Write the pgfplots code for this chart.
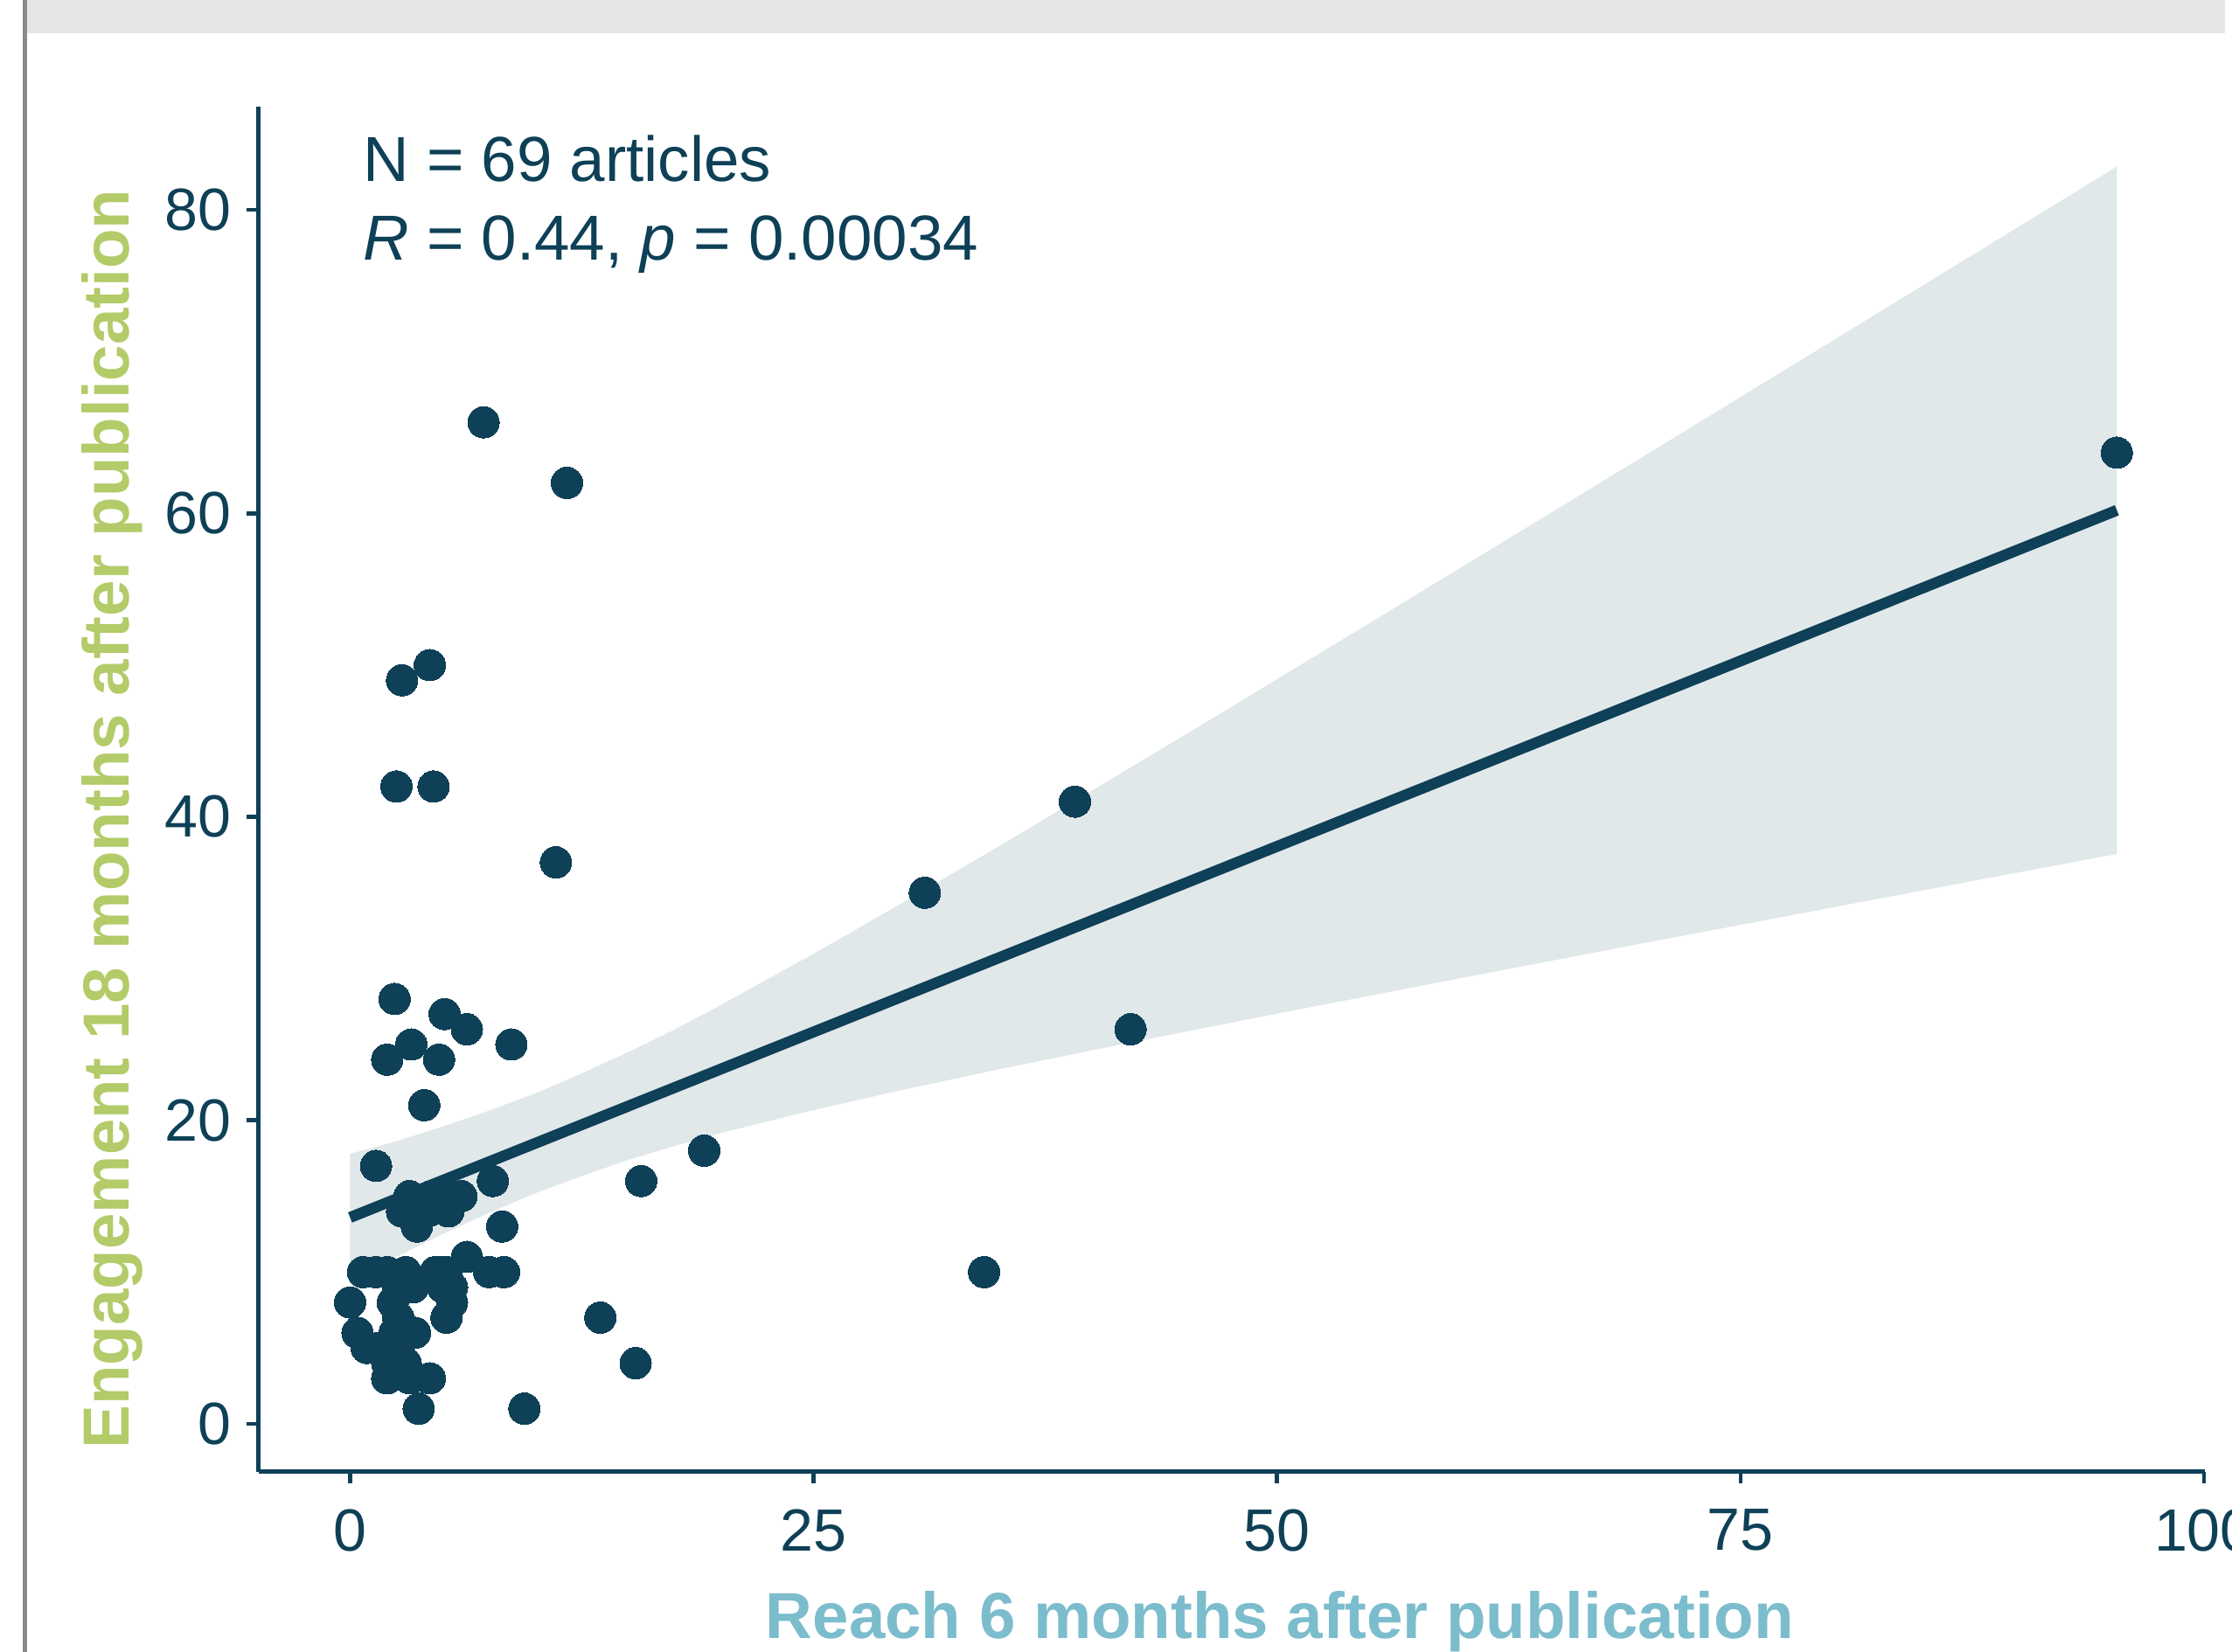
\documentclass[border=0pt]{standalone}
\usepackage{fontspec}
\setmainfont{Liberation Sans}
\usepackage{pgfplots}
\pgfplotsset{compat=1.18}
\definecolor{navy}{HTML}{0E4057}
\definecolor{ylab}{HTML}{B3CB68}
\definecolor{xlab}{HTML}{7CBDCD}
\definecolor{band}{HTML}{E1E8EA}
\definecolor{topgray}{HTML}{E5E5E5}
\definecolor{linegray}{HTML}{8A8A8A}
\pgfplotstableread{
x y
7.2 66
11.7 62
95.3 64
2.8 49
4.3 50
2.5 42
4.5 42
11.1 37
31.0 35
39.1 41
42.1 26
34.2 10
19.1 18
15.7 16
13.5 7
15.4 4
9.4 1
3.7 1
2.4 28
5.1 27
6.3 26
8.7 25
3.3 25
2.0 24
4.8 24
4.0 21
1.4 17
7.7 16
8.2 13
3.2 15
5.6 15
6.0 15
2.8 14
4.2 14
5.3 14
3.6 13
6.3 11
0.7 10
1.4 10
2.0 10
4.6 10
5.2 10
7.5 10
8.3 10
3.4 9
5.5 9
0.0 8
2.3 8
5.5 8
5.2 7
2.6 7
0.4 6
2.4 6
3.5 6
0.9 5
2.0 4
3.0 4
2.0 3
4.3 3
1.5 5
2.6 9
3.0 10
5.0 9
4.4 15
3.9 14
2.6 5
3.2 3
4.9 10
5.4 9
}\pts
\begin{document}
\begin{tikzpicture}
\path[use as bounding box] (-29.57mm,-20.6mm) rectangle (225.73mm,168.4mm);
\fill[white] (-29.57mm,-20.6mm) rectangle (225.73mm,168.4mm);
\fill[topgray] (-26.5mm,164.6mm) rectangle (224.93mm,168.4mm);
\fill[linegray] (-26.97mm,-20.6mm) rectangle (-26.5mm,168.4mm);
\begin{axis}[
  at={(0,0)}, anchor=south west,
  scale only axis, width=222.63mm, height=156.2mm,
  xmin=-4.94, xmax=100.05, ymin=-3.17, ymax=86.8,
  axis x line*=bottom, axis y line*=left,
  axis line style={line width=0.5mm, navy},
  xtick={0,25,50,75,100}, ytick={0,20,40,60,80},
  tick align=outside, major tick length=1.35mm,
  tick style={line width=0.45mm, navy},
  /pgf/number format/assume math mode=true,
  xticklabel style={font=\fontsize{19.4pt}{23pt}\selectfont, text=navy, anchor=north, inner sep=0pt, yshift=-2.85mm},
  yticklabel style={font=\fontsize{19.4pt}{23pt}\selectfont, text=navy, anchor=east, inner sep=0pt, xshift=-1.75mm},
  clip=false,
]
\addplot[fill=band, draw=none] coordinates {
(0,17.80) (2.5,18.62) (5,19.59) (7.5,20.64) (10,21.78) (12.5,23.09) (15,24.49) (17.5,25.98) (20,27.60) (25,30.97) (30,34.48) (35,38.06) (40,41.71) (45,45.37) (50,49.07) (55,52.77) (60,56.49) (65,60.20) (70,63.93) (75,67.66) (80,71.40) (85,75.14) (90,78.88) (95.3,82.85)
(95.3,37.55) (90,36.34) (85,35.19) (80,34.04) (75,32.88) (70,31.73) (65,30.56) (60,29.39) (55,28.21) (50,27.03) (45,25.83) (40,24.61) (35,23.36) (30,22.06) (25,20.68) (20,19.16) (17.5,18.31) (15,17.39) (12.5,16.33) (10,15.20) (7.5,13.90) (5,12.51) (2.5,11.01) (0,9.40)
} -- cycle;
\addplot[navy, line width=1.25mm] coordinates {(0,13.6) (95.3,60.2)};
\addplot[navy, only marks, mark=*, mark size=1.8mm, mark options={draw=navy, fill=navy, line width=0pt}] table[x=x, y=y] {\pts};
\end{axis}
\node[anchor=base west, inner sep=0pt, text=navy, font=\fontsize{20.7pt}{25pt}\selectfont] at (11.9mm,147.6mm) {N = 69 articles};
\node[anchor=base west, inner sep=0pt, text=navy, font=\fontsize{20.7pt}{25pt}\selectfont] at (11.9mm,138.6mm) {\textit{R} = 0.44, \textit{p} = 0.00034};
\node[anchor=base, inner sep=0pt, text=xlab, font=\bfseries\fontsize{21.2pt}{26pt}\selectfont] at (116.8mm,-19.1mm) {Reach 6 months after publication};
\node[rotate=90, anchor=base, inner sep=0pt, text=ylab, font=\bfseries\fontsize{21.2pt}{26pt}\selectfont] at (-14.77mm,74.7mm) {Engagement 18 months after publication};
\end{tikzpicture}
\end{document}
